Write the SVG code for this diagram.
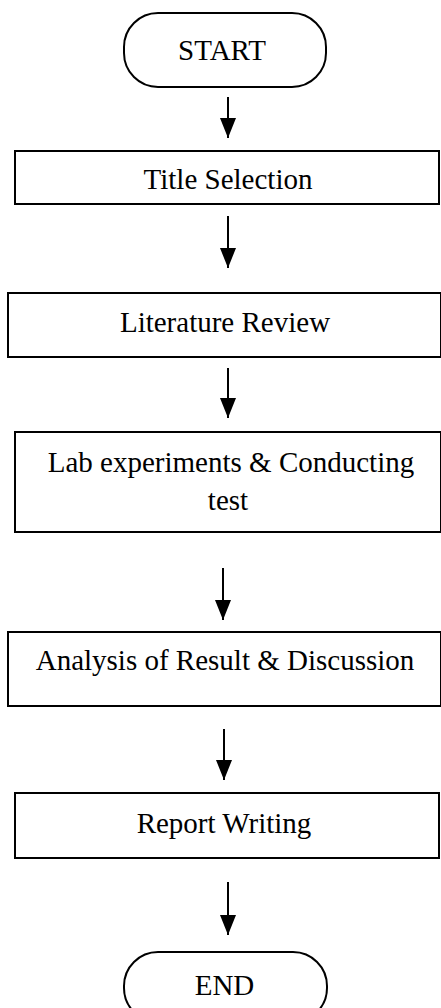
<svg xmlns="http://www.w3.org/2000/svg" width="441" height="1008" viewBox="0 0 441 1008">
<defs>
<style>
.box{fill:#fff;stroke:#000;stroke-width:2}
.t{font-family:"Liberation Serif","Times New Roman",serif;font-size:29px;fill:#000;text-anchor:middle}
.c{stroke:#000;stroke-width:2;fill:none}
</style>
<marker id="a" viewBox="0 0 20 16" refX="20" refY="8" markerWidth="20" markerHeight="16" markerUnits="userSpaceOnUse" orient="auto">
<path d="M0,0 L20,8 L0,16 Z" fill="#000"/>
</marker>
</defs>
<rect width="441" height="1008" fill="#fff"/>
<g id="connectors">
<line class="c" x1="228" y1="97" x2="228" y2="138" marker-end="url(#a)"/>
<line class="c" x1="228" y1="216" x2="228" y2="268" marker-end="url(#a)"/>
<line class="c" x1="228" y1="368" x2="228" y2="418" marker-end="url(#a)"/>
<line class="c" x1="223" y1="568" x2="223" y2="620" marker-end="url(#a)"/>
<line class="c" x1="224" y1="729" x2="224" y2="780" marker-end="url(#a)"/>
<line class="c" x1="228" y1="882" x2="228" y2="935" marker-end="url(#a)"/>
</g>
<g id="start">
<rect class="box" x="124" y="13" width="202" height="74" rx="34" ry="34"/>
<text class="t" x="222" y="60">START</text>
</g>
<g id="title-selection">
<rect class="box" x="15" y="151" width="424" height="53"/>
<text class="t" x="228" y="189">Title Selection</text>
</g>
<g id="literature-review">
<rect class="box" x="8" y="293" width="433" height="64"/>
<text class="t" x="225" y="332">Literature Review</text>
</g>
<g id="lab-experiments">
<rect class="box" x="15" y="432" width="426" height="100"/>
<text class="t" x="231" y="472">Lab experiments &amp; Conducting</text>
<text class="t" x="228" y="510">test</text>
</g>
<g id="analysis">
<rect class="box" x="8" y="632" width="433" height="74"/>
<text class="t" x="225" y="670">Analysis of Result &amp; Discussion</text>
</g>
<g id="report-writing">
<rect class="box" x="15" y="793" width="424" height="65"/>
<text class="t" x="224" y="833">Report Writing</text>
</g>
<g id="end">
<rect class="box" x="124" y="952" width="203" height="70" rx="34" ry="34"/>
<text class="t" x="224.5" y="995">END</text>
</g>
</svg>
